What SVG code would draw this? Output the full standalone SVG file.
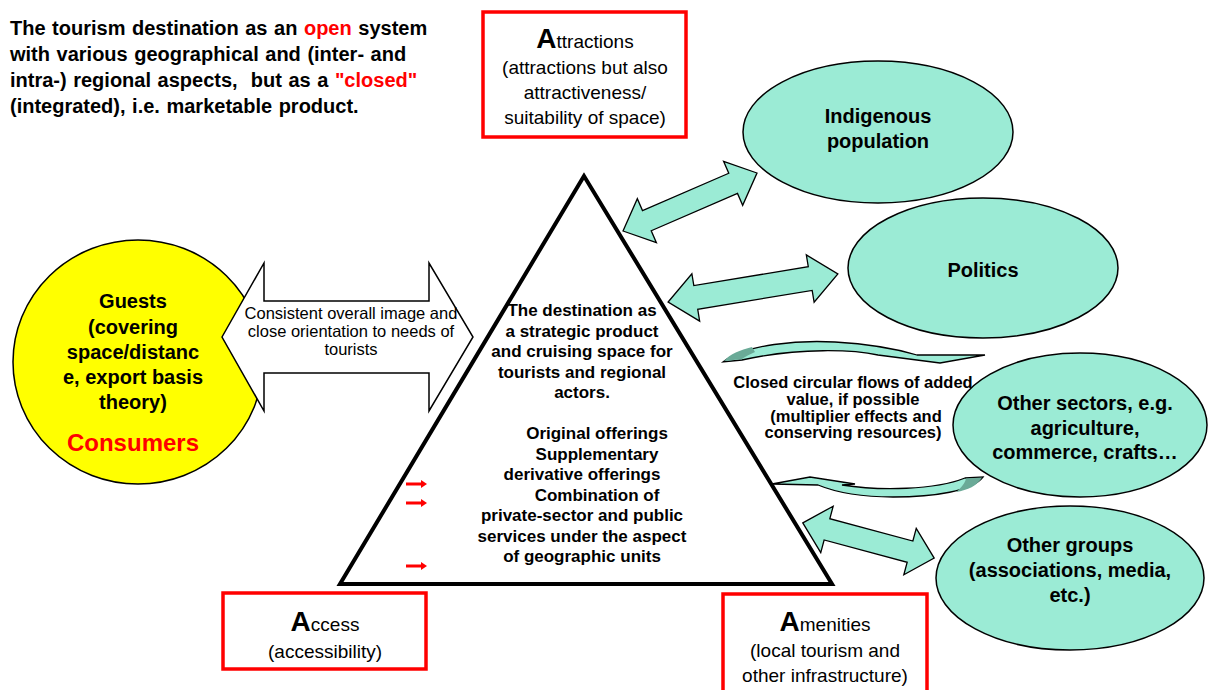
<svg xmlns="http://www.w3.org/2000/svg" width="1208" height="690" viewBox="0 0 1208 690">
<style>
text{font-family:"Liberation Sans",Arial,sans-serif;fill:#000}
.b{font-weight:bold}
.red{fill:#f00}
.box{fill:#fff;stroke:#f00;stroke-width:3.5}
.ell{fill:#9bebd5;stroke:#000;stroke-width:1.5}
.teal{fill:#9bebd5;stroke:#000;stroke-width:1.3}
.dark{fill:#6aaa97;stroke:none}
.s20{font-size:20px}
.s19{font-size:19px}
.big{font-size:28px;font-weight:bold}
.s17{font-size:17px}
.ra{fill:#f00}
</style>
<rect width="1208" height="690" fill="#fff"/>

<g id="title">
<text class="b s20" x="10" y="35" word-spacing="1">The tourism destination as an <tspan class="red">open</tspan> system</text>
<text class="b s20" x="10" y="61" word-spacing="1">with various geographical and (inter- and</text>
<text class="b s20" x="10" y="87" word-spacing="1" xml:space="preserve">intra-) regional aspects,  but as a <tspan class="red">"closed"</tspan></text>
<text class="b s20" x="10" y="113" word-spacing="1">(integrated), i.e. marketable product.</text>
</g>

<g id="attractions">
<rect class="box" x="483" y="12" width="203" height="125"/>
<text class="s19" x="585" y="48" text-anchor="middle"><tspan class="big">A</tspan>ttractions</text>
<text class="s19" x="585" y="74" text-anchor="middle">(attractions but also</text>
<text class="s19" x="585" y="99" text-anchor="middle">attractiveness/</text>
<text class="s19" x="585" y="124" text-anchor="middle">suitability of space)</text>
</g>

<g id="guests">
<ellipse cx="138" cy="362" rx="125" ry="122" fill="#ff0" stroke="#000" stroke-width="1.5"/>
<text class="b s20" x="133" y="308" text-anchor="middle">Guests</text>
<text class="b s20" x="133" y="334" text-anchor="middle">(covering</text>
<text class="b s20" x="133" y="359" text-anchor="middle">space/distanc</text>
<text class="b s20" x="133" y="384" text-anchor="middle">e, export basis</text>
<text class="b s20" x="133" y="409" text-anchor="middle">theory)</text>
<text class="b red" x="133" y="451" text-anchor="middle" font-size="24">Consumers</text>
</g>

<g id="destination">
<polygon points="584,176 340,584 832,584" fill="#fff" stroke="#000" stroke-width="4" stroke-linejoin="miter"/>
<text class="b s17" x="582" y="316" text-anchor="middle">The destination as</text>
<text class="b s17" x="582" y="337" text-anchor="middle">a strategic product</text>
<text class="b s17" x="582" y="357" text-anchor="middle">and cruising space for</text>
<text class="b s17" x="582" y="378" text-anchor="middle">tourists and regional</text>
<text class="b s17" x="582" y="398" text-anchor="middle">actors.</text>
<text class="b s17" x="597" y="439" text-anchor="middle">Original offerings</text>
<text class="b s17" x="597" y="460" text-anchor="middle">Supplementary</text>
<text class="b s17" x="582" y="480" text-anchor="middle">derivative offerings</text>
<text class="b s17" x="597" y="501" text-anchor="middle">Combination of</text>
<text class="b s17" x="582" y="521" text-anchor="middle">private-sector and public</text>
<text class="b s17" x="582" y="542" text-anchor="middle">services under the aspect</text>
<text class="b s17" x="582" y="562" text-anchor="middle">of geographic units</text>
<polygon class="ra" points="406,482.5 421,482.5 421,480 427,484 421,488 421,485.5 406,485.5"/>
<polygon class="ra" points="406,501.5 421,501.5 421,499 427,503 421,507 421,504.5 406,504.5"/>
<polygon class="ra" points="406,564.5 421,564.5 421,562 427,566 421,570 421,567.5 406,567.5"/>
</g>

<g id="access">
<rect class="box" x="223" y="593" width="203" height="76"/>
<text class="s19" x="325" y="631" text-anchor="middle"><tspan class="big">A</tspan>ccess</text>
<text class="s19" x="325" y="658" text-anchor="middle">(accessibility)</text>
</g>

<g id="amenities">
<rect class="box" x="723" y="594" width="204" height="110"/>
<text class="s19" x="825" y="631" text-anchor="middle"><tspan class="big">A</tspan>menities</text>
<text class="s19" x="825" y="657" text-anchor="middle">(local tourism and</text>
<text class="s19" x="825" y="682" text-anchor="middle">other infrastructure)</text>
</g>

<g id="indigenous">
<ellipse class="ell" cx="878" cy="132" rx="135" ry="71"/>
<text class="b s20" x="878" y="123" text-anchor="middle">Indigenous</text>
<text class="b s20" x="878" y="148" text-anchor="middle">population</text>
</g>

<g id="politics">
<ellipse class="ell" cx="983" cy="268" rx="135" ry="70"/>
<text class="b s20" x="983" y="277" text-anchor="middle">Politics</text>
</g>

<g id="sectors">
<ellipse class="ell" cx="1080" cy="425" rx="127" ry="72"/>
<text class="b s20" x="1085" y="410" text-anchor="middle">Other sectors, e.g.</text>
<text class="b s20" x="1085" y="435" text-anchor="middle">agriculture,</text>
<text class="b s20" x="1085" y="459" text-anchor="middle">commerce, crafts…</text>
</g>

<g id="groups">
<ellipse class="ell" cx="1070" cy="578" rx="134" ry="72"/>
<text class="b s20" x="1070" y="552" text-anchor="middle">Other groups</text>
<text class="b s20" x="1070" y="577" text-anchor="middle">(associations, media,</text>
<text class="b s20" x="1070" y="602" text-anchor="middle">etc.)</text>
</g>

<g id="connectors">
<g id="guest-link">
<polygon points="222,337 264,263 264,301 429,301 429,263 473,337 429,411 429,373 264,373 264,411" fill="#fff" stroke="#000" stroke-width="1.5"/>
<text x="351" y="319" text-anchor="middle" font-size="16.5">Consistent overall image and</text>
<text x="351" y="337" text-anchor="middle" font-size="16.5">close orientation to needs of</text>
<text x="351" y="355" text-anchor="middle" font-size="16.5">tourists</text>
</g>
<polygon class="teal" transform="translate(690,202) rotate(-23.4)" points="-73,0 -47,-24 -47,-11 47,-11 47,-24 73,0 47,24 47,11 -47,11 -47,24"/>
<polygon class="teal" transform="translate(753,288) rotate(-9.35)" points="-86,0 -58,-24 -58,-12 58,-12 58,-24 86,0 58,24 58,12 -58,12 -58,24"/>
<polygon class="teal" transform="translate(868.5,540.5) rotate(15)" points="-68,0 -43,-24 -43,-11 43,-11 43,-24 68,0 43,24 43,11 -43,11 -43,24"/>
<g id="flow-top">
<path class="teal" d="M723,362 C745,344 800,340 835,342 C870,344 900,350 917,355 L985,355 L940,363 L878,355 C855,350 800,347 742,360 Z"/>
<path class="dark" d="M724,361 C730,354 740,350 752,347 L755,352 C750,354 745,357 742,359 Z"/>
</g>
<g id="flow-bottom">
<path class="teal" d="M772,484 L810,477 L855,484 L842,485 C880,491 935,490 965,478 L983,477 C972,491 935,497 893,497 C858,497 835,492 818,485 Z"/>
<path class="dark" d="M966,478.5 L982,477.5 C977,486 968,490 956,492 C962,487 965,483 966,478.5 Z"/>
</g>
<g id="flow-label">
<text class="b" x="853" y="388" text-anchor="middle" font-size="16.5">Closed circular flows of added</text>
<text class="b" x="853" y="405" text-anchor="middle" font-size="16.5">value, if possible</text>
<text class="b" x="856" y="422" text-anchor="middle" font-size="16.5">(multiplier effects and</text>
<text class="b" x="853" y="438" text-anchor="middle" font-size="16.5">conserving resources)</text>
</g>
</g>
</svg>
